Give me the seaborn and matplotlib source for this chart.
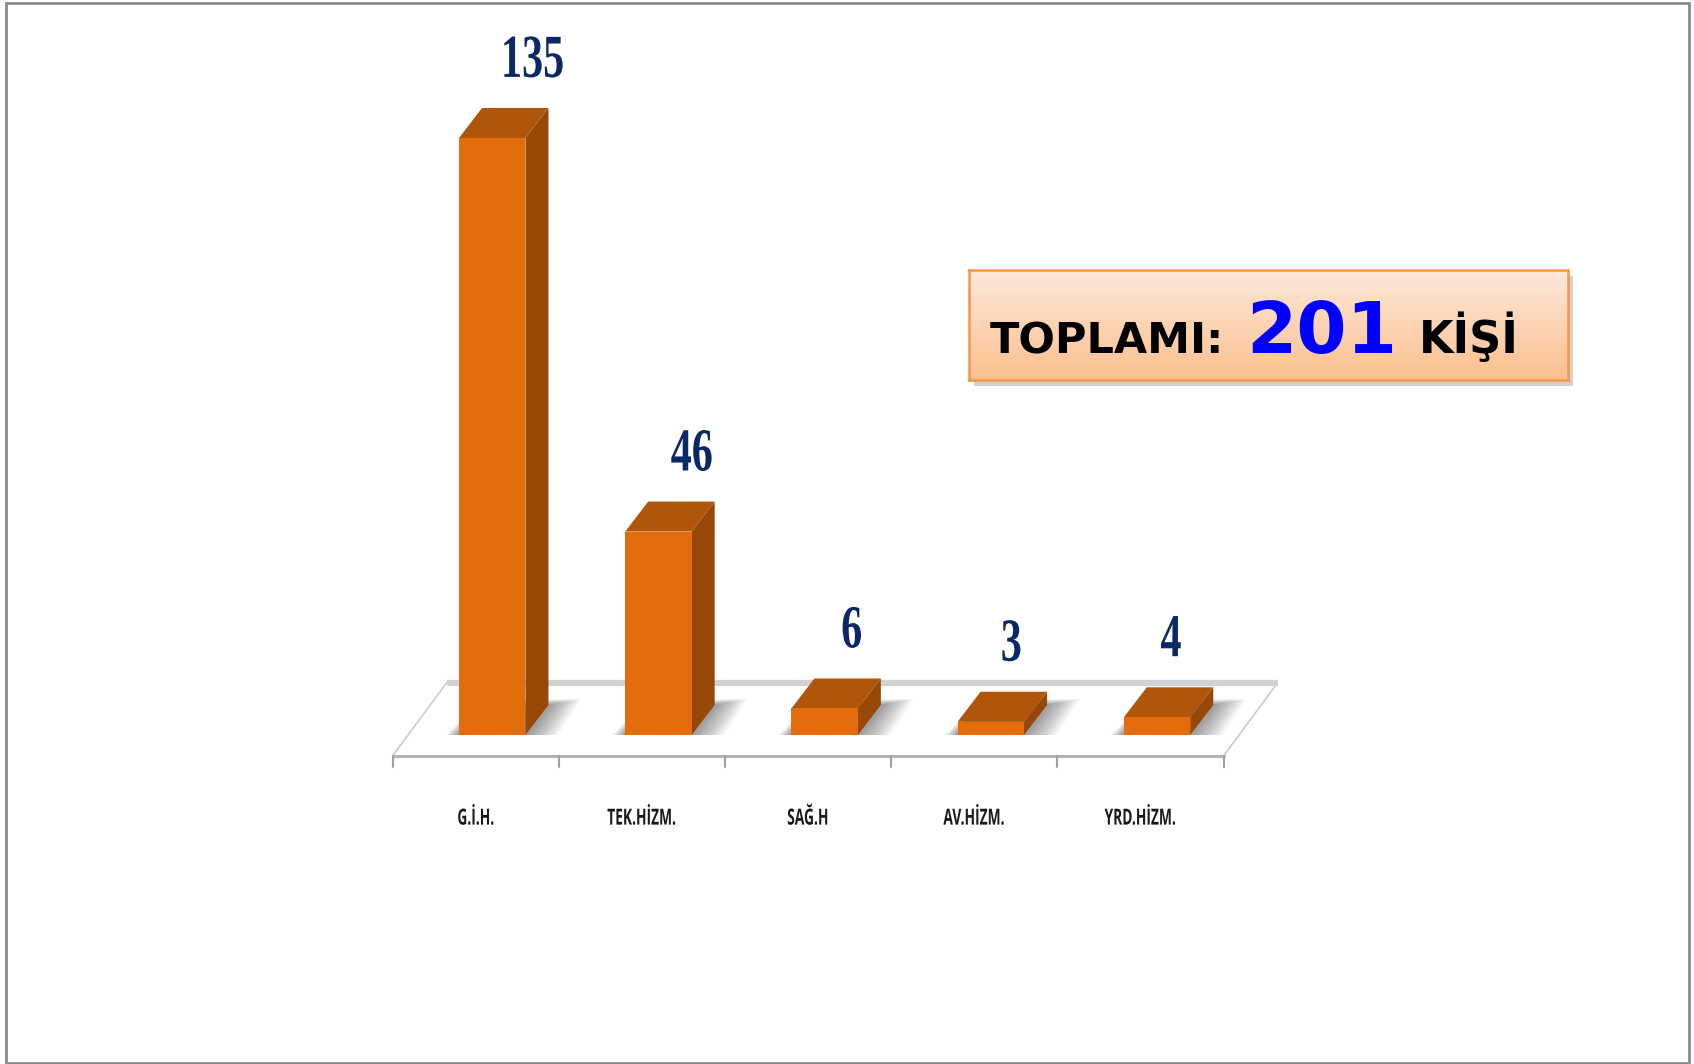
import numpy as np
import pandas as pd
import seaborn as sns
import matplotlib
matplotlib.use("Agg")
from matplotlib import pyplot as plt
from matplotlib.patches import Polygon, Rectangle
from matplotlib.patheffects import AbstractPathEffect
from matplotlib.transforms import Affine2D

# data
categories = ["G.İ.H.", "TEK.HİZM.", "SAĞ.H", "AV.HİZM.", "YRD.HİZM."]
values = [135, 46, 6, 3, 4]
total_label = "201"

df = pd.DataFrame({"birim": categories, "kisi": values})

W, H = 1694, 1064
front_col = "#e46c0a"
side_col = "#974806"
top_col = "#b0560a"
label_col = "#0b2866"


# squeeze text horizontally (condensed look), text stays real text
class Squeeze(AbstractPathEffect):
    def __init__(self, sx):
        super().__init__()
        self.sx = sx

    def draw_path(self, renderer, gc, tpath, affine, rgbFace=None):
        ext = tpath.get_extents()
        cx = (ext.x0 + ext.x1) / 2
        sq = Affine2D().translate(-cx, 0).scale(self.sx, 1).translate(cx, 0)
        renderer.draw_path(gc, tpath, sq + affine, rgbFace)


sns.set_theme(style="white")
plt.rcParams["font.family"] = ["DejaVu Sans"]

fig = plt.figure(figsize=(W / 100, H / 100), dpi=100)
fig.patch.set_facecolor("white")
ax = fig.add_axes([392.5 / W, 1 - 735 / H, 831 / W, 597 / H])

sns.barplot(data=df, x="birim", y="kisi", color=front_col, saturation=1,
            width=0.4, ax=ax, zorder=5, edgecolor="none")
ax.set_xlim(-0.6, 4.4)
ax.set_ylim(0, 135)
for s in ax.spines.values():
    s.set_visible(False)
ax.set_ylabel("")
ax.set_xlabel("")
ax.set_yticks([])
ax.patch.set_alpha(0)

# pixel -> data helpers
sx = 831 / 5.0          # px per x unit
sy = 597 / 135.0        # px per y unit
def dpx(px, py):
    return px / sx, py / sy

# floor (parallelogram under the bars)
fx0, fx1 = ax.get_xlim()
_, fy_front = dpx(0, -21)
fdx, fdy = dpx(54, 73)
floor = Polygon([(fx0, fy_front), (fx1, fy_front), (fx1 + fdx, fy_front + fdy),
                 (fx0 + fdx, fy_front + fdy)], closed=True, facecolor="white",
                edgecolor="#cccccc", lw=1.2, clip_on=False, zorder=1)
ax.add_patch(floor)
ax.plot([fx0 + fdx, fx1 + fdx], [fy_front + fdy] * 2, color="#d2d2d2", lw=4.5,
        clip_on=False, zorder=1.5, solid_capstyle="butt")
ax.plot([fx0, fx1], [fy_front] * 2, color="#b4b4b4", lw=2.2, clip_on=False, zorder=1.6)
_, tick_len = dpx(0, 11)
for b in np.arange(len(categories) + 1) - 0.6:
    ax.plot([b, b], [fy_front, fy_front - tick_len], color="#a0a0a0", lw=1.5,
            clip_on=False, zorder=1.6)

# 3d faces + shadows
ddx, ddy = dpx(23, 30)
for i, (p, v) in enumerate(zip(ax.patches[:len(values)], values)):
    x0 = p.get_x()
    w = p.get_width()
    h = p.get_height()
    x1 = x0 + w
    # soft shadow at the base
    for k in range(12):
        gx, gy = dpx(4 + 2.6 * k, 2 + 1.6 * k)
        sh = Polygon([(x0 - gx * 0.4, 0), (x1 + gx, 0),
                      (x1 + ddx + gx, ddy + gy * 0.3), (x0 + ddx, ddy + gy * 0.3)],
                     closed=True, facecolor="black", alpha=0.035, edgecolor="none",
                     zorder=2, clip_on=False)
        ax.add_patch(sh)
    side = Polygon([(x1, 0), (x1, h), (x1 + ddx, h + ddy), (x1 + ddx, ddy)],
                   closed=True, facecolor=side_col, edgecolor="none", zorder=4,
                   clip_on=False)
    top = Polygon([(x0, h), (x1, h), (x1 + ddx, h + ddy), (x0 + ddx, h + ddy)],
                  closed=True, facecolor=top_col, edgecolor="none", zorder=4,
                  clip_on=False)
    ax.add_patch(side)
    ax.add_patch(top)
    p.set_clip_on(False)
    ax.annotate(str(v), xy=(p.get_x() + w / 2, h),
                xytext=((40 - 6.5 * i) * 0.72, 44),
                textcoords="offset points", ha="center", va="baseline",
                fontsize=44, fontweight="bold", color=label_col,
                family=["Liberation Serif", "DejaVu Serif"],
                path_effects=[Squeeze(0.69)],
                annotation_clip=False, zorder=6)

ax.set_xticks(np.arange(len(categories)) - 0.1)
ax.set_xticklabels(categories, fontsize=16, fontweight="bold", color="#1a1a1a",
                   family=["Open Sans", "DejaVu Sans"])
for t in ax.get_xticklabels():
    t.set_path_effects([Squeeze(0.62)])
ax.tick_params(axis="x", length=0, pad=53)

# total box with gradient
bx0, by0, bx1, by1 = 969, 270, 1568, 380
shadow = Rectangle(((bx0 + 5) / W, 1 - (by1 + 6) / H), (bx1 - bx0) / W, (by1 - by0) / H,
                   transform=fig.transFigure, facecolor="#9a9a9a", alpha=0.45,
                   edgecolor="none", zorder=-1)
fig.patches.append(shadow)
bax = fig.add_axes([bx0 / W, 1 - by1 / H, (bx1 - bx0) / W, (by1 - by0) / H])
bax.set_zorder(1)
grad = np.linspace(0, 1, 256).reshape(-1, 1)
cm = matplotlib.colors.LinearSegmentedColormap.from_list("pe", ["#fde9dc", "#fbc08e"])
bax.imshow(grad, aspect="auto", cmap=cm, extent=[0, 1, 0, 1], origin="upper")
bax.set_xticks([])
bax.set_yticks([])
for s in bax.spines.values():
    s.set_color("#f79646")
    s.set_linewidth(1.8)

base_y = 1 - 353 / H
fig.text(990 / W, base_y, "TOPLAMI:", fontsize=31, fontweight="bold", color="black",
         ha="left", va="baseline", zorder=3)
fig.text(1246 / W, base_y, total_label, fontsize=52, fontweight="bold", color="#0000ff",
         ha="left", va="baseline", zorder=3)
fig.text(1419 / W, base_y, "KİŞİ", fontsize=32, fontweight="bold", color="black",
         ha="left", va="baseline", zorder=3)

# outer frame
frame = Rectangle((5.5 / W, 1 / H), 1683.5 / W, 1 - 4 / H, transform=fig.transFigure,
                  facecolor="none", edgecolor="#8c8c8c", lw=2, zorder=10)
fig.patches.append(frame)

plt.savefig("out.png", dpi=100)
